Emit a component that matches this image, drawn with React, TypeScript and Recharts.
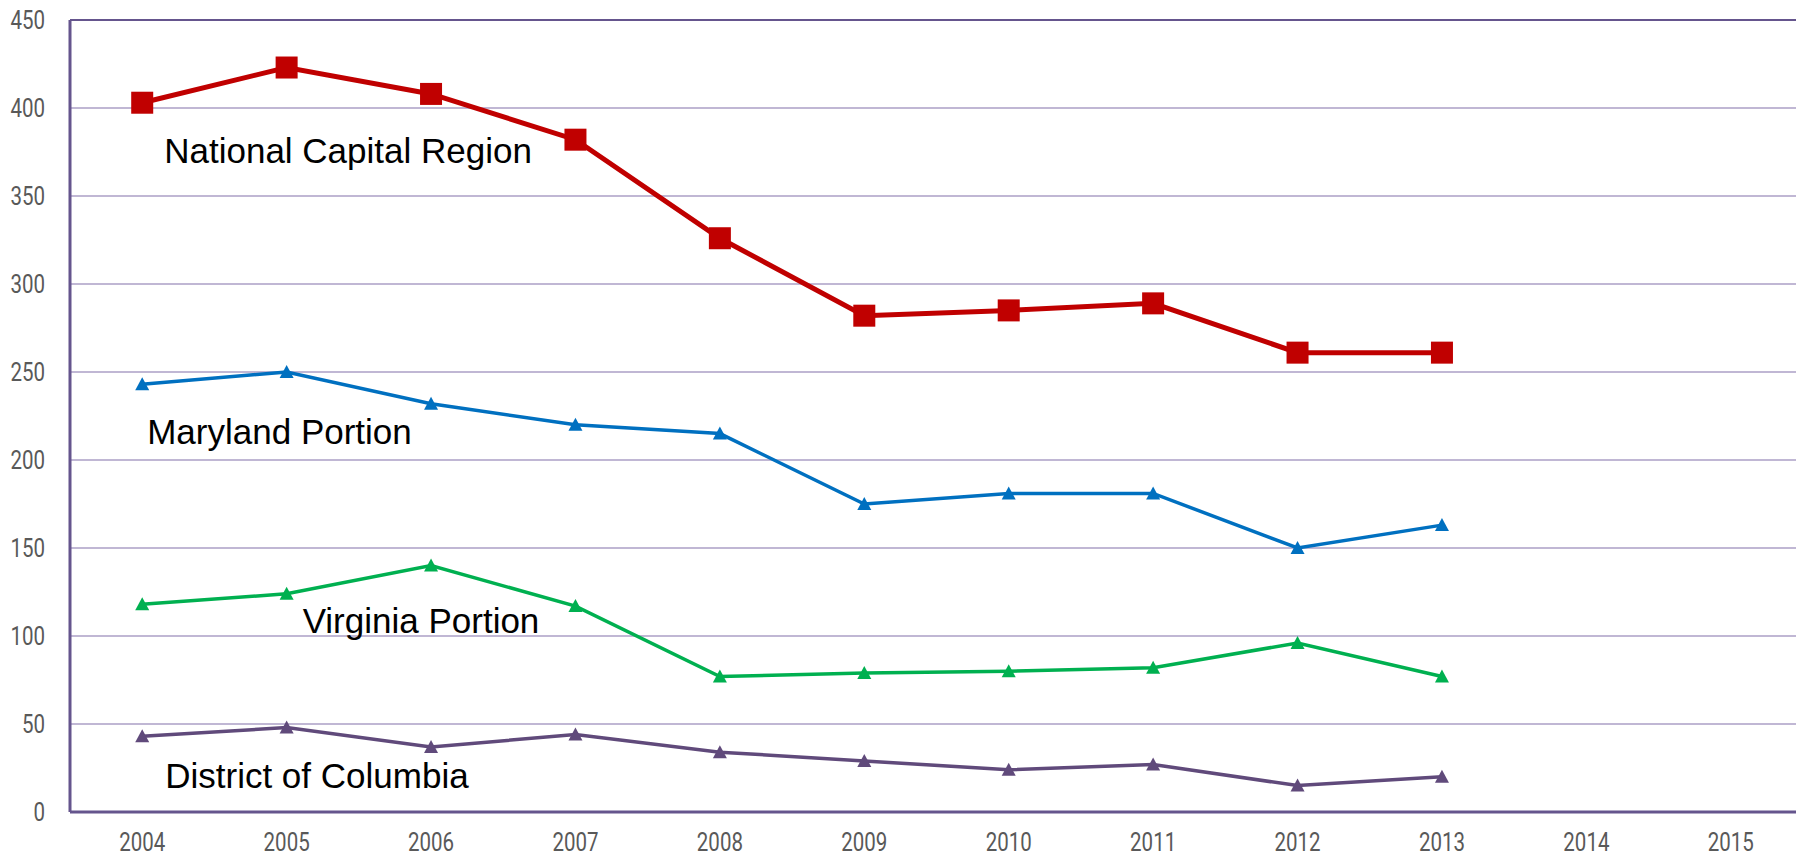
import { CartesianGrid, Line, LineChart, ReferenceDot, ReferenceLine, XAxis, YAxis } from "recharts"

const YEARS = ["2004", "2005", "2006", "2007", "2008", "2009", "2010", "2011", "2012", "2013", "2014", "2015"]
const NCR = [403, 423, 408, 382, 326, 282, 285, 289, 261, 261]
const MARYLAND = [243, 250, 232, 220, 215, 175, 181, 181, 150, 163]
const VIRGINIA = [118, 124, 140, 117, 77, 79, 80, 82, 96, 77]
const DC = [43, 48, 37, 44, 34, 29, 24, 27, 15, 20]
const Y_TICKS = [0, 50, 100, 150, 200, 250, 300, 350, 400, 450]

const LABELS = [
  { text: "National Capital Region", year: "2004", y: 376, dx: 22 },
  { text: "Maryland Portion", year: "2004", y: 216, dx: 5 },
  { text: "Virginia Portion", year: "2005", y: 109, dx: 16 },
  { text: "District of Columbia", year: "2004", y: 21, dx: 23 },
]

const data = YEARS.map((year, i) => ({
  year,
  ncr: NCR[i] ?? null,
  md: MARYLAND[i] ?? null,
  va: VIRGINIA[i] ?? null,
  dc: DC[i] ?? null,
}))

const AXIS = "#65558d"
const GRID = "#ab9fc6"

// narrow tick text: Roboto squeezed horizontally
const NarrowTick = (anchor: "middle" | "end", dy: string) => (p: any) => (
  <g transform={`translate(${p.x},${p.y}) scale(0.82,1)`}>
    <text x={0} y={0} dy={dy} textAnchor={anchor} fontSize={25} fill="#595959" fontFamily="Roboto, sans-serif">
      {p.payload.value}
    </text>
  </g>
)

const square = (color: string) => (p: any) => {
  if (p.cx == null || p.cy == null || p.value == null) return <g key={p.key} />
  return <rect key={p.key} x={p.cx - 11} y={p.cy - 11} width={22} height={22} fill={color} />
}

const triangle = (color: string) => (p: any) => {
  if (p.cx == null || p.cy == null || p.value == null) return <g key={p.key} />
  const { cx, cy } = p
  return <path key={p.key} d={`M${cx},${cy - 7} L${cx + 7},${cy + 6} L${cx - 7},${cy + 6} Z`} fill={color} />
}

export default function App() {
  return (
    <div style={{ position: "absolute", left: 0, top: 0, width: 1796, height: 858, overflow: "hidden", background: "#fff" }}>
      <LineChart width={1803} height={858} data={data} margin={{ top: 20, right: 0, left: 0, bottom: 0 }}>
        <CartesianGrid vertical={false} stroke={GRID} strokeWidth={1.5} />
        <ReferenceLine y={450} stroke={AXIS} strokeWidth={2} />
        <XAxis
          dataKey="year"
          scale="band"
          height={46}
          tick={NarrowTick("middle", "0.71em")}
          tickLine={false}
          tickSize={0}
          tickMargin={21}
          axisLine={{ stroke: AXIS, strokeWidth: 3 }}
          interval={0}
        />
        <YAxis
          width={70}
          domain={[0, 450]}
          ticks={Y_TICKS}
          tick={NarrowTick("end", "0.355em")}
          tickLine={false}
          tickSize={0}
          tickMargin={25}
          axisLine={{ stroke: AXIS, strokeWidth: 3 }}
          interval={0}
        />
        <Line dataKey="dc" stroke="#604a7b" strokeWidth={3.5} dot={triangle("#604a7b")} isAnimationActive={false} />
        <Line dataKey="va" stroke="#00b050" strokeWidth={3.5} dot={triangle("#00b050")} isAnimationActive={false} />
        <Line dataKey="md" stroke="#0070c0" strokeWidth={3.5} dot={triangle("#0070c0")} isAnimationActive={false} />
        <Line dataKey="ncr" stroke="#c00000" strokeWidth={5} dot={square("#c00000")} isAnimationActive={false} />
        {LABELS.map((l) => (
          <ReferenceDot
            key={l.text}
            x={l.year}
            y={l.y}
            r={0}
            shape={(p: any) => (
              <text
                x={p.cx + l.dx}
                y={p.cy}
                dominantBaseline="central"
                fontSize={35}
                fontFamily="'Liberation Sans', Arial, sans-serif"
                fill="#000"
              >
                {l.text}
              </text>
            )}
          />
        ))}
      </LineChart>
    </div>
  )
}
